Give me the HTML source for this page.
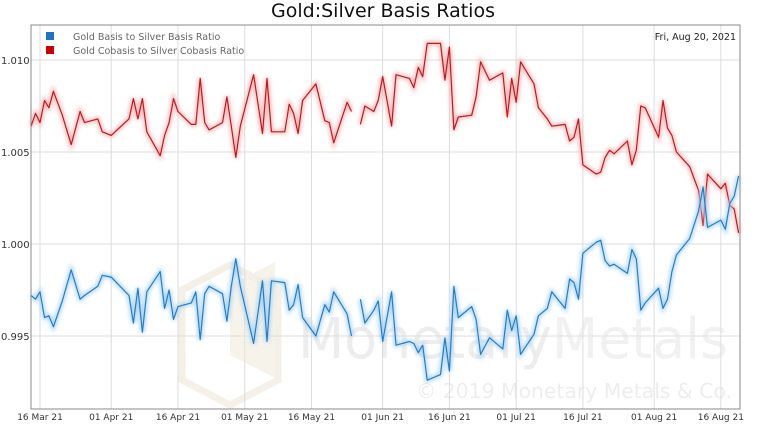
<!DOCTYPE html>
<html><head><meta charset="utf-8"><style>
body{margin:0;background:#fff;width:765px;height:425px;overflow:hidden;font-family:"Liberation Sans","DejaVu Sans",sans-serif}
svg text{font-family:"DejaVu Sans","Liberation Sans",sans-serif}
</style></head><body>
<svg id="chart" width="765" height="425" xmlns="http://www.w3.org/2000/svg">
<defs><filter id="glow" x="-5%" y="-5%" width="110%" height="110%"><feGaussianBlur stdDeviation="2"/></filter>
<clipPath id="plotclip"><rect x="31" y="25" width="709" height="384"/></clipPath></defs>
<text x="383" y="17" text-anchor="middle" font-size="19" fill="#111">Gold:Silver Basis Ratios</text>
<g id="grid"></g>
<g opacity="0.45" clip-path="url(#plotclip)">
<polygon points="230,285 275,262 275,378 230,355" fill="#ece6d2"/>
<polygon points="182,290 230,265 278,290 278,380 230,405 182,380" fill="none" stroke="#e8e0cc" stroke-width="7"/>
<text x="298" y="358" font-size="56" fill="#d8d8d8" font-family="Liberation Sans" textLength="430" lengthAdjust="spacingAndGlyphs">Monetary<tspan fill="#e2e2e2">Metals</tspan></text>
<text x="416" y="398" font-size="20" fill="#d8d8d8" font-family="Liberation Sans" textLength="316" lengthAdjust="spacingAndGlyphs">© 2019 Monetary Metals &amp; Co.</text>
</g>
<g id="series"></g>
<rect x="31" y="25" width="709" height="384" fill="none" stroke="#888" stroke-width="1"/>
<g>
<rect x="46" y="32" width="8" height="8" fill="#1f74c2"/>
<text x="73" y="40" font-size="9.5" fill="#666">Gold Basis to Silver Basis Ratio</text>
<rect x="46" y="46" width="8" height="8" fill="#c00"/>
<text x="73" y="54" font-size="9.5" fill="#666">Gold Cobasis to Silver Cobasis Ratio</text>
</g>
<text x="736" y="40" text-anchor="end" font-size="9.5" fill="#222">Fri, Aug 20, 2021</text>
</svg>
<script>
// day offsets from 16 Mar 2021
const days=[-2,-1,0,1,2,3,5,7,9,10,13,14,16,20,21,22,23,24,27,28,29,30,31,34,35,36,37,38,41,42,43,44,45,48,50,51,52,55,56,57,58,59,62,64,65,66,69,70,71,72,73,75,76,77,79,80,83,84,85,86,87,90,91,92,93,94,97,98,99,101,104,105,106,107,108,111,112,114,115,118,119,120,121,122,125,126,127,128,129,132,133,134,135,136,139,140,141,142,143,146,148,149,150,153,154,155,156,157];
const cobasis=[1.0064,1.0071,1.0066,1.0078,1.0074,1.0083,1.0070,1.0054,1.0072,1.0066,1.0068,1.0061,1.0059,1.0068,1.0079,1.0068,1.0079,1.0061,1.0048,1.0059,1.0066,1.0079,1.0072,1.0065,1.0065,1.0090,1.0066,1.0062,1.0066,1.0080,1.0064,1.0047,1.0064,1.0092,1.0060,1.0090,1.0061,1.0061,1.0076,1.0071,1.0060,1.0078,1.0087,1.0067,1.0066,1.0055,1.0077,1.0072,null,1.0065,1.0075,1.0072,1.0078,1.0091,1.0064,1.0092,1.0090,1.0085,1.0096,1.0091,1.0109,1.0109,1.0089,1.0107,1.0062,1.0069,1.0070,1.0080,1.0099,1.0089,1.0093,1.0069,1.0090,1.0077,1.0099,1.0087,1.0074,1.0068,1.0064,1.0065,1.0056,1.0058,1.0068,1.0043,1.0038,1.0039,1.0047,1.0051,1.0049,1.0056,1.0043,1.0051,1.0075,1.0074,1.0058,1.0078,1.0063,1.0059,1.0050,1.0042,1.0029,1.0010,1.0038,1.0030,1.0033,1.0021,1.0019,1.0006];
const basis=[0.9972,0.9970,0.9974,0.9960,0.9961,0.9955,0.9969,0.9986,0.9970,0.9972,0.9977,0.9983,0.9982,0.9972,0.9957,0.9976,0.9952,0.9974,0.9985,0.9965,0.9975,0.9959,0.9966,0.9968,0.9974,0.9948,0.9973,0.9977,0.9973,0.9958,0.9977,0.9992,0.9977,0.9946,0.9980,0.9947,0.9980,0.9979,0.9964,0.9967,0.9978,0.9960,0.9950,0.9967,0.9963,0.9974,0.9962,0.9950,null,0.9970,0.9957,0.9964,0.9969,0.9947,0.9974,0.9945,0.9947,0.9946,0.9941,0.9945,0.9926,0.9929,0.9949,0.9931,0.9977,0.9960,0.9966,0.9959,0.9940,0.9949,0.9943,0.9964,0.9953,0.9961,0.9940,0.9951,0.9961,0.9965,0.9974,0.9965,0.9981,0.9979,0.9970,0.9995,1.0001,1.0002,0.9991,0.9988,0.9989,0.9984,0.9997,0.9992,0.9964,0.9968,0.9976,0.9965,0.9970,0.9985,0.9994,1.0003,1.0018,1.0031,1.0009,1.0013,1.0008,1.0022,1.0026,1.0037];
const yTicks=[0.995,1.000,1.005,1.010];
const yTickLabels=["0.995","1.000","1.005","1.010"];
const xTickDays=[0,16,31,46,61,77,92,107,122,138,153];
const xTickLabels=["16 Mar 21","01 Apr 21","16 Apr 21","01 May 21","16 May 21","01 Jun 21","16 Jun 21","01 Jul 21","16 Jul 21","01 Aug 21","16 Aug 21"];

const NS="http://www.w3.org/2000/svg";
const x=d=>40+d*4.45;
const y=v=>244-(v-1)/0.005*92;
const grid=document.getElementById('grid'),ser=document.getElementById('series');
function mk(t,a,p){const e=document.createElementNS(NS,t);for(const k in a)e.setAttribute(k,a[k]);p.appendChild(e);return e;}
yTicks.forEach((v,i)=>{
  const l=mk('line',{x1:31,x2:740,y1:y(v),y2:y(v),stroke:'#ddd'},grid);
  
  
  const t=mk('text',{x:1,y:y(v)+4,'font-size':10,fill:'#333'},grid);
  
  
  t.textContent=yTickLabels[i];
});
xTickDays.forEach((d,i)=>{
  const l=mk('line',{x1:x(d),x2:x(d),y1:25,y2:409,stroke:'#ddd'},grid);
  
  
  const t=mk('text',{x:x(d),y:420,'font-size':9,fill:'#333','text-anchor':'middle'},grid);
  
  
  t.textContent=xTickLabels[i];
});
function path(vals){let s='',pen=false;vals.forEach((v,i)=>{if(v==null){pen=false;return;}s+=(pen?'L':'M')+x(days[i]).toFixed(1)+','+y(v).toFixed(1);pen=true;});return s;}
[[cobasis,'#b81c22','#f2b4b4','cobasis-line'],[basis,'#2a7cc0','#a8d4f4','basis-line']].forEach(([vals,c,g,n])=>{
  const gl=mk('path',{d:path(vals),fill:'none',stroke:g,'stroke-width':4,filter:'url(#glow)'},ser);
  
  
  const p=mk('path',{d:path(vals),fill:'none',stroke:c,'stroke-width':1.2,'stroke-linejoin':'round'},ser);
  
  
});
</script>
</body></html>
